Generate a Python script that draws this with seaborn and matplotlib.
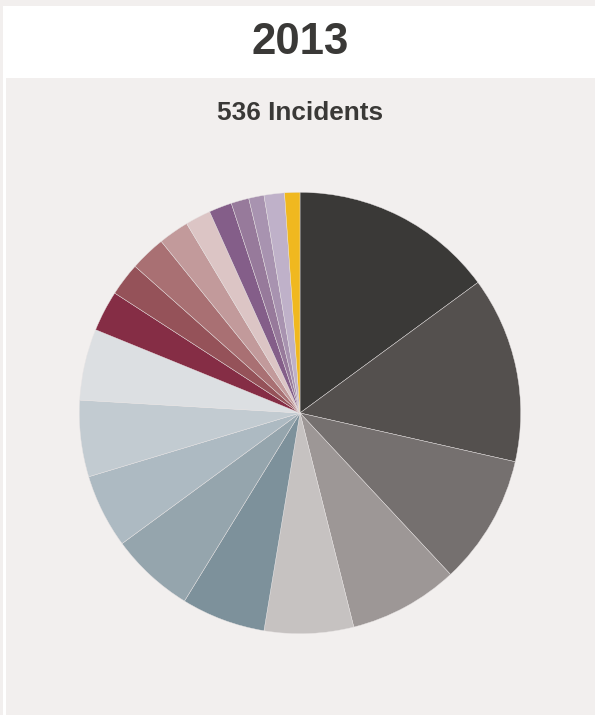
import matplotlib
matplotlib.use("Agg")
import matplotlib.pyplot as plt
import seaborn as sns
from matplotlib.patches import Rectangle

# ---- data ----
title = "2013"
subtitle = "536 Incidents"
categories = [f"Category {i+1}" for i in range(20)]
values = [80, 73, 51, 43, 35, 33, 33, 29, 30, 28, 16, 13, 14, 12, 10, 9, 7, 6, 8, 6]
slice_colors = ["#3a3937", "#54504e", "#75706f", "#9d9796", "#c6c2c1",
                "#7d919b", "#95a5ad", "#adbac2", "#c2cbd1", "#dcdfe2",
                "#852d45", "#955259", "#a97073", "#c29a9b", "#dcc5c5",
                "#845e89", "#977a9b", "#a893b0", "#bfb1c9", "#f0b81f"]

sns.set_theme(style="white")
plt.rcParams["font.family"] = ["Liberation Sans", "DejaVu Sans"]

W, H = 595, 715
BG = "#f2efee"
TXT = "#3a3937"
fig = plt.figure(figsize=(W / 100, H / 100), dpi=100, facecolor=BG)

# white header / frame
fig.patches.append(Rectangle((3 / W, 0), 1, (H - 6) / H, transform=fig.transFigure,
                             facecolor="white", edgecolor="none", zorder=-10))
# grey panel
fig.patches.append(Rectangle((6 / W, 0), 1, (H - 78) / H, transform=fig.transFigure,
                             facecolor=BG, edgecolor="none", zorder=-9))

fig.text(300 / W, 1 - 43 / H, title, ha="center", va="center",
         fontsize=31.5, fontweight="bold", color=TXT)
fig.text(300 / W, 1 - 113 / H, subtitle, ha="center", va="center",
         fontsize=18.8, fontweight="bold", color=TXT)

cx, cy, r = 300, 413, 220.7
ax = fig.add_axes([(cx - r) / W, (H - cy - r) / H, 2 * r / W, 2 * r / H], zorder=5)
palette = sns.color_palette(slice_colors)
ax.pie(values, colors=palette, startangle=90, counterclock=False, radius=1,
       wedgeprops=dict(edgecolor="#e8e4e4", linewidth=0.3))
ax.set_xlim(-1, 1)
ax.set_ylim(-1, 1)
ax.set_aspect("auto")
ax.axis("off")

fig.savefig("out.png", dpi=100, facecolor=BG)
